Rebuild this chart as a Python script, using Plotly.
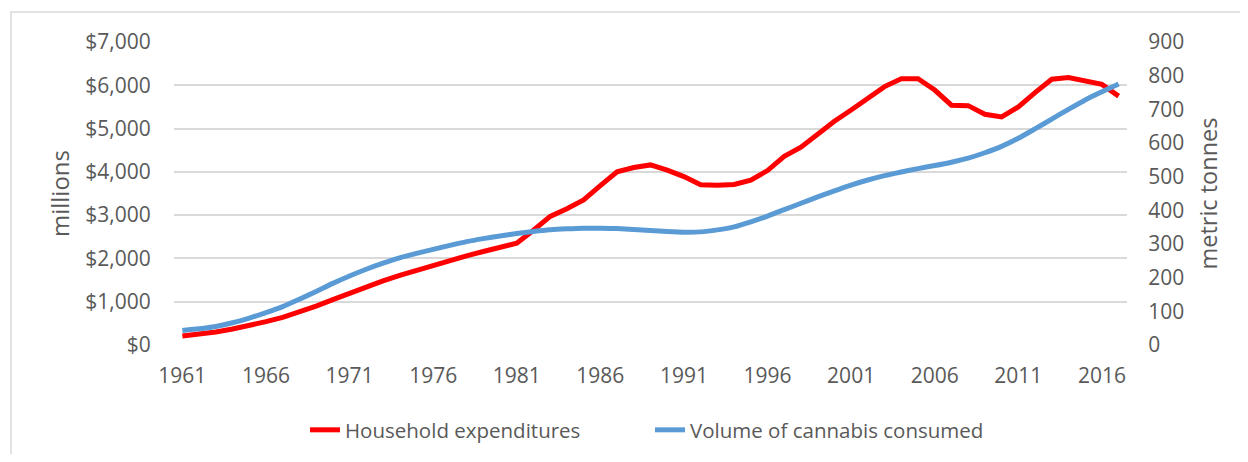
import plotly.graph_objects as go

years = list(range(1961, 2018))

# household expenditures, $ millions
household = [210, 250, 300, 370, 450, 540, 640, 760, 900, 1050,
             1200, 1340, 1480, 1610, 1730, 1850, 1960, 2060, 2160, 2250,
             2350, 2650, 2970, 3150, 3350, 3680, 4000, 4100, 4160, 4040,
             3890, 3700, 3690, 3710, 3810, 4030, 4360, 4570, 4870, 5170,
             5430, 5700, 5970, 6150, 6150, 5890, 5540, 5530, 5330, 5270,
             5500, 5830, 6140, 6180, 6090, 6020, 5750]

# volume of cannabis consumed, metric tonnes
volume = [43, 48, 55, 66, 80, 96, 114, 136, 159, 183,
          205, 225, 243, 259, 272, 284, 296, 307, 316, 324,
          331, 337, 342, 345, 347, 347, 346, 343, 340, 337,
          335, 336, 342, 351, 366, 383, 402, 421, 440, 458,
          475, 490, 503, 514, 524, 533, 543, 555, 571, 590,
          614, 642, 671, 700, 728, 752, 775]

tick_years = list(range(1961, 2017, 5))

font_fam = "Open Sans"
grey = "#595959"

# page body has an 8px margin, so the figure is a bit smaller than the window
W, H = 1232, 446

fig = go.Figure()
fig.add_trace(go.Scatter(x=years, y=household, name="Household expenditures",
                         mode="lines", line=dict(color="#FF0000", width=5)))
fig.add_trace(go.Scatter(x=years, y=volume, name="Volume of cannabis consumed",
                         mode="lines", yaxis="y2",
                         line=dict(color="#5B9BD5", width=5, shape="spline", smoothing=0.6)))

fig.update_layout(
    width=W, height=H,
    margin=dict(l=166, r=113, t=34, b=109),
    paper_bgcolor="white", plot_bgcolor="white",
    font=dict(family=font_fam, color=grey, size=21),
    xaxis=dict(range=[1960.5, 2017.5], tickvals=tick_years, showgrid=False,
               zeroline=False, showline=False, ticks="outside", ticklen=12,
               tickcolor="rgba(0,0,0,0)", tickfont=dict(size=21)),
    yaxis=dict(range=[0, 7000], dtick=1000, tickprefix="$", tickformat=",d",
               showgrid=True, gridcolor="#d9d9d9", gridwidth=1.5, zeroline=False,
               ticks="outside", ticklen=18, tickcolor="rgba(0,0,0,0)",
               title=dict(text="millions", font=dict(size=24), standoff=8)),
    yaxis2=dict(range=[0, 900], dtick=100, overlaying="y", side="right",
                showgrid=False, zeroline=False, ticks="outside", ticklen=16,
                tickcolor="rgba(0,0,0,0)",
                title=dict(text="metric tonnes", font=dict(size=23.5), standoff=17)),
    legend=dict(orientation="h", xref="paper", x=(305 - 174) / 953, xanchor="left",
                yref="container", y=1 - 422 / H, yanchor="middle", font=dict(size=20.5),
                entrywidth=300, entrywidthmode="pixels", tracegroupgap=0),
    showlegend=True,
    shapes=[dict(type="rect", xref="paper", yref="paper",
                 x0=-0.171, x1=1.13, y0=-0.4, y1=1.099,
                 line=dict(color="#d9d9d9", width=1.5), layer="below")],
)

fig.write_html("out.html")
